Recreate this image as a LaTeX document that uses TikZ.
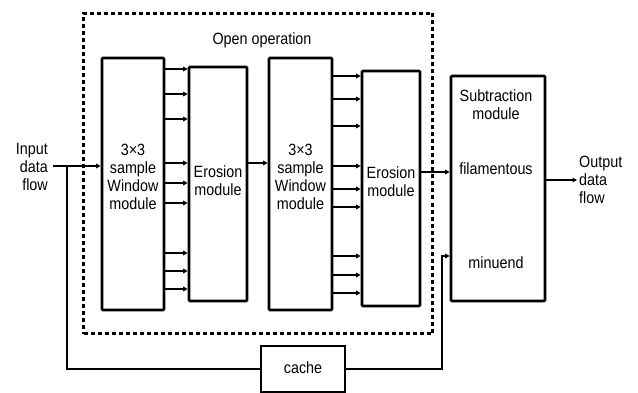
\documentclass[tikz,border=0pt]{standalone}
\usepackage{fontspec}
\setmainfont{Liberation Sans}[FakeStretch=0.88]
\usetikzlibrary{arrows.meta}
\begin{document}
\begin{tikzpicture}[x=1pt,y=-1pt,
 box/.style={draw, line width=2.6pt, rounded corners=1pt, inner sep=0pt},
 lbl/.style={font=\fontsize{16.3}{18}\selectfont, align=center, inner sep=0pt},
 arr/.style={line width=1.1pt, -{Triangle[length=4.5pt,width=4.5pt]}},
 wire/.style={line width=1.1pt}]
\useasboundingbox (0,0) rectangle (638,393);
% dashed open-operation frame
\node[draw, line width=2.2pt, dash pattern=on 4pt off 3pt, minimum width=349pt, minimum height=320pt, inner sep=0pt] (open) at (258,173.5) {};
\node[lbl] (opentxt) at (262,40) {Open operation};
% boxes
\node[box, minimum width=62pt, minimum height=252pt] (win1) at (133,184) {};
\node[box, minimum width=58pt, minimum height=234pt] (ero1) at (218,184) {};
\node[box, minimum width=63pt, minimum height=252pt] (win2) at (300.5,184) {};
\node[box, minimum width=58pt, minimum height=235pt] (ero2) at (391,188.5) {};
\node[box, minimum width=94pt, minimum height=225pt] (sub) at (498,188.5) {};
\node[draw, line width=2pt, inner sep=0pt, minimum width=84pt, minimum height=46pt] (cache) at (303,369) {};
% texts
\node[lbl] (win1txt) at (133,177) {3×3\\sample\\Window\\module};
\node[lbl] (ero1txt) at (218,181) {Erosion\\module};
\node[lbl] (win2txt) at (300.5,177) {3×3\\sample\\Window\\module};
\node[lbl] (ero2txt) at (391,182) {Erosion\\module};
\node[lbl] (subtxt) at (496,105) {Subtraction\\module};
\node[lbl] (filtxt) at (496,169) {filamentous};
\node[lbl] (mintxt) at (496,263) {minuend};
\node[lbl] (cachetxt) at (303,368) {cache};
\node[lbl, align=right, anchor=east] (intxt) at (48,167) {Input\\data\\flow};
\node[lbl, align=left, anchor=west] (outtxt) at (579,180) {Output\\data\\flow};
% window -> erosion arrows
\foreach \y in {69,94,119,163,183,203,253,271,289}
  \draw[arr] (win1.east |- 0,\y) -- (ero1.west |- 0,\y);
\foreach \y in {76,99,126,166,189,207,256,275,293}
  \draw[arr] (win2.east |- 0,\y) -- (ero2.west |- 0,\y);
\draw[arr] (ero1.east |- 0,163) -- (win2.west |- 0,163);
\draw[arr] (ero2.east |- 0,172) -- (sub.west |- 0,172);
% input
\coordinate (inp) at (53,166);
\coordinate (br) at (67,166);
\draw[arr] (inp) -- (win1.west |- inp);
\draw[wire] (br) |- (cache.west);
\coordinate (up) at (442,256);
\draw[arr] (cache.east) -| (up) -- (sub.west |- up);
% output
\coordinate (outp) at (577,180);
\draw[arr] (sub.east |- outp) -- (outp);
\end{tikzpicture}
\end{document}
